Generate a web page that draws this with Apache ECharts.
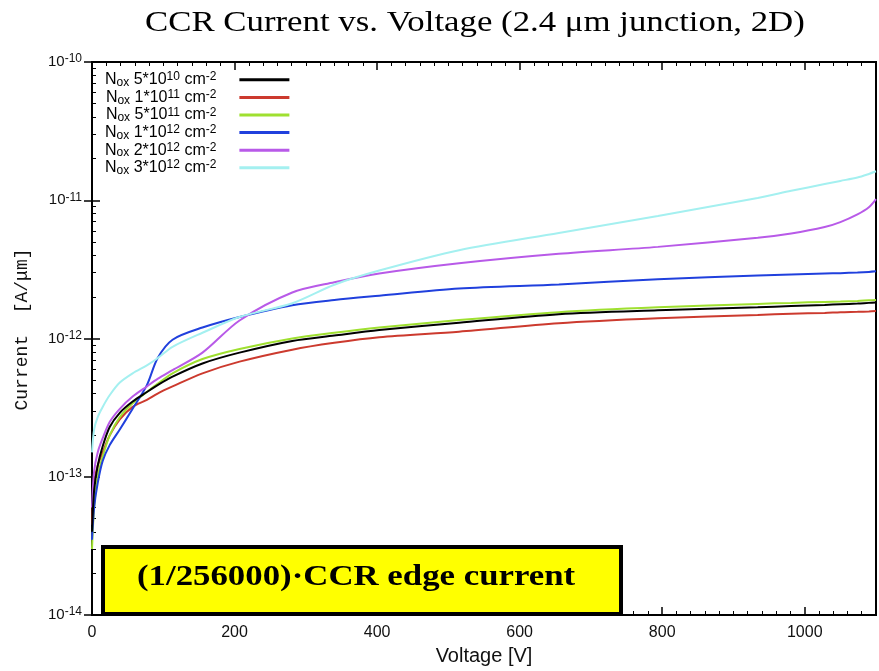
<!DOCTYPE html>
<html>
<head>
<meta charset="utf-8">
<script src="https://cdn.jsdelivr.net/npm/echarts@6/dist/echarts.min.js"></script>
<style>
  html, body { margin: 0; padding: 0; background: #fff; }
  #main { width: 879px; height: 671px; }
</style>
</head>
<body>
<div id="main"></div>
<script>
// voltage points [V]
var voltage = [0, 3, 8, 15, 25, 39, 57, 77, 92, 113, 155, 207, 281, 340, 403, 515, 655, 794, 934, 981, 1028, 1050, 1074, 1090, 1100];

// current [A/um] for each oxide charge
var nox5e10 = [4e-14, 8e-14, 1.2e-13, 1.66e-13, 2.3e-13, 2.9e-13, 3.5e-13, 4.1e-13, 4.6e-13, 5.3e-13, 6.6e-13, 7.9e-13, 9.6e-13, 1.05e-12, 1.15e-12, 1.3e-12, 1.5e-12, 1.6e-12, 1.68e-12, 1.72e-12, 1.75e-12, 1.77e-12, 1.79e-12, 1.81e-12, 1.82e-12];
var nox1e11 = [4.5e-14, 9e-14, 1.2e-13, 1.5e-13, 2.0e-13, 2.6e-13, 3.2e-13, 3.6e-13, 4.0e-13, 4.5e-13, 5.6e-13, 6.8e-13, 8.3e-13, 9.3e-13, 1.02e-12, 1.12e-12, 1.29e-12, 1.4e-12, 1.48e-12, 1.51e-12, 1.53e-12, 1.55e-12, 1.56e-12, 1.57e-12, 1.58e-12];
var nox5e11 = [3e-14, 6e-14, 1e-13, 1.4e-13, 2.0e-13, 2.7e-13, 3.4e-13, 4.1e-13, 4.7e-13, 5.6e-13, 7.1e-13, 8.4e-13, 1.0e-12, 1.1e-12, 1.2e-12, 1.36e-12, 1.55e-12, 1.68e-12, 1.78e-12, 1.81e-12, 1.84e-12, 1.85e-12, 1.87e-12, 1.89e-12, 1.9e-12];
var nox1e12 = [3.5e-14, 6e-14, 9e-14, 1.3e-13, 1.7e-13, 2.2e-13, 3.1e-13, 4.6e-13, 7.2e-13, 9.8e-13, 1.2e-12, 1.43e-12, 1.74e-12, 1.9e-12, 2.04e-12, 2.3e-12, 2.46e-12, 2.68e-12, 2.85e-12, 2.9e-12, 2.95e-12, 2.97e-12, 3.0e-12, 3.03e-12, 3.06e-12];
var nox2e12 = [6e-14, 1.1e-13, 1.5e-13, 1.9e-13, 2.5e-13, 3.1e-13, 3.8e-13, 4.5e-13, 5.1e-13, 5.9e-13, 7.9e-13, 1.35e-12, 2.15e-12, 2.55e-12, 2.95e-12, 3.5e-12, 4.1e-12, 4.6e-12, 5.35e-12, 5.75e-12, 6.4e-12, 6.95e-12, 7.9e-12, 8.9e-12, 1.02e-11];
var nox3e12 = [1.5e-13, 2.2e-13, 2.7e-13, 3.2e-13, 3.9e-13, 4.8e-13, 5.6e-13, 6.4e-13, 7.2e-13, 8.7e-13, 1.1e-12, 1.43e-12, 1.8e-12, 2.45e-12, 3.1e-12, 4.35e-12, 5.8e-12, 7.7e-12, 1.04e-11, 1.17e-11, 1.31e-11, 1.38e-11, 1.46e-11, 1.55e-11, 1.62e-11];

// legend pieces
var noxMant = ['5*10', '1*10', '5*10', '1*10', '2*10', '3*10'];
var noxExp = ['10', '11', '11', '12', '12', '12'];
var seriesNames = ['Nox 5e10', 'Nox 1e11', 'Nox 5e11', 'Nox 1e12', 'Nox 2e12', 'Nox 3e12'];
var seriesValues = [nox5e10, nox1e11, nox5e11, nox1e12, nox2e12, nox3e12];
var seriesColors = ['#000000', '#cc3a2e', '#9fe030', '#2040dd', '#b85ae8', '#a4f0f0'];

var xTicks = [0, 200, 400, 600, 800, 1000];

var myChart = echarts.init(document.getElementById('main'));

var series = seriesNames.map(function (name, i) {
  return {
    name: name,
    type: 'line',
    smooth: 0.3,
    symbol: 'none',
    lineStyle: { width: 2, color: seriesColors[i] },
    itemStyle: { color: seriesColors[i] },
    data: voltage.map(function (v, k) { return [v, seriesValues[i][k]]; }),
    z: 3 + (i === 0 ? 2 : 0)
  };
});

myChart.setOption({
  animation: false,
  legend: {
    orient: 'vertical',
    left: 100,
    top: 66,
    align: 'right',
    itemGap: 0,
    itemWidth: 50,
    itemHeight: 3,
    icon: 'rect',
    data: seriesNames,
    formatter: function (name) {
      var i = seriesNames.indexOf(name);
      return '{n|N}{sub|ox}{n| ' + noxMant[i] + '}{sup|' + noxExp[i] + '}{n| cm}{sup|-2}{g| }';
    },
    textStyle: {
      color: '#000',
      rich: {
        n: { fontFamily: 'Liberation Sans', fontSize: 16, lineHeight: 17.6, color: '#000' },
        sub: { fontFamily: 'Liberation Sans', fontSize: 12, lineHeight: 6, verticalAlign: 'bottom', color: '#000' },
        sup: { fontFamily: 'Liberation Sans', fontSize: 12, lineHeight: 8, verticalAlign: 'top', color: '#000' },
        g: { width: 18, fontSize: 12 }
      }
    }
  },
  grid: {
    left: 92, right: 0, top: 62, bottom: 54,
    show: true, borderColor: '#000', borderWidth: 2
  },
  xAxis: [{
    type: 'value',
    min: 0, max: 1100, interval: 200,
    name: 'Voltage [V]',
    nameLocation: 'middle',
    nameGap: 31,
    nameTextStyle: { fontFamily: 'Liberation Sans', fontSize: 20, color: '#111' },
    axisLine: { lineStyle: { color: '#000', width: 2 } },
    axisTick: { inside: true, length: 8, lineStyle: { color: '#000', width: 1.5 } },
    minorTick: { show: true, splitNumber: 10, length: 4, lineStyle: { color: '#000' } },
    splitLine: { show: false },
    axisLabel: {
      fontFamily: 'Liberation Sans', fontSize: 16, color: '#111', margin: 10,
      formatter: function (v) { return xTicks.indexOf(v) >= 0 ? String(v) : ''; }
    }
  }, {
    type: 'value', position: 'top',
    min: 0, max: 1100, interval: 200,
    axisLine: { show: false },
    axisTick: { inside: true, length: 8, lineStyle: { color: '#000', width: 1.5 } },
    minorTick: { show: true, splitNumber: 10, length: 4, lineStyle: { color: '#000' } },
    axisLabel: { show: false },
    splitLine: { show: false }
  }],
  yAxis: [{
    type: 'log',
    logBase: 10,
    min: 1e-14, max: 1e-10,
    name: 'Current  [A/μm]',
    nameLocation: 'middle',
    nameGap: 61,
    nameRotate: 90,
    nameTextStyle: { fontFamily: 'Liberation Mono', fontSize: 18, color: '#111', padding: [0, 0, 0, 18] },
    axisLine: { lineStyle: { color: '#000', width: 2 } },
    axisTick: { inside: true, length: 8, lineStyle: { color: '#000', width: 1.5 } },
    minorTick: { show: true, splitNumber: 9, length: 4, lineStyle: { color: '#000' } },
    splitLine: { show: false },
    axisLabel: {
      margin: 10,
      formatter: function (v) {
        var e = Math.round(Math.log(v) / Math.LN10);
        return '{b|10}{s|' + e + '}';
      },
      rich: {
        b: { fontFamily: 'Liberation Sans', fontSize: 15, color: '#111', lineHeight: 18 },
        s: { fontFamily: 'Liberation Sans', fontSize: 12, color: '#111', lineHeight: 9, verticalAlign: 'top' }
      }
    }
  }, {
    type: 'log', position: 'right',
    logBase: 10,
    min: 1e-14, max: 1e-10,
    axisLine: { show: false },
    axisTick: { inside: true, length: 8, lineStyle: { color: '#000', width: 1.5 } },
    axisLabel: { show: false },
    splitLine: { show: false }
  }],
  graphic: [{
    type: 'text',
    x: 145, y: 9,
    scaleX: 1.2,
    style: {
      text: 'CCR Current vs. Voltage (2.4 μm junction, 2D)',
      font: 'normal 29px "Liberation Serif"',
      fill: '#000'
    },
    z: 101
  }, {
    type: 'rect',
    left: 101, top: 545,
    shape: { width: 518, height: 67 },
    style: { fill: '#ffff00', stroke: '#000', lineWidth: 4 },
    z: 100
  }, {
    type: 'text',
    x: 137, y: 563,
    scaleX: 1.2,
    style: {
      text: '(1/256000)·CCR edge current',
      font: 'bold 29px "Liberation Serif"',
      fill: '#000'
    },
    z: 101
  }],
  series: series
});
</script>
</body>
</html>
